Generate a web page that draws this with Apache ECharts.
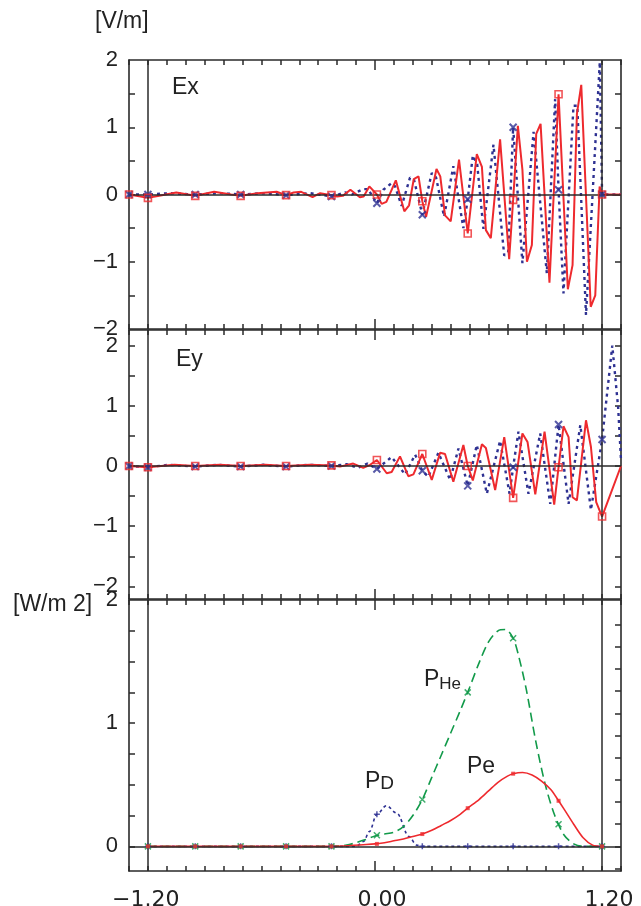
<!DOCTYPE html>
<html><head><meta charset="utf-8">
<script src="https://cdn.jsdelivr.net/npm/echarts@6/dist/echarts.min.js"></script>
<style>html,body{margin:0;padding:0;background:#fff}#c{width:641px;height:906px}</style>
</head><body><div id="c"></div>
<script>
// ---------- Ex panel (V/m) ----------
const exRedX = [-1.30,-1.20,-1.14,-1.05,-0.95,-0.85,-0.76,-0.71,-0.62,-0.52,-0.47,-0.43,-0.39,-0.33,-0.29,-0.23,-0.20,-0.17,-0.13,-0.08,-0.06,-0.03,0.01,0.035,0.06,0.11,0.155,0.18,0.205,0.23,0.25,0.27,0.325,0.345,0.37,0.40,0.444,0.49,0.538,0.565,0.586,0.612,0.661,0.709,0.73,0.755,0.779,0.803,0.829,0.852,0.875,0.922,0.97,1.019,1.044,1.067,1.09,1.14,1.164,1.187,1.20,1.30];
const exRedY = [0,-0.05,-0.02,0.03,-0.02,0.04,0.0,-0.02,0.02,0.04,-0.01,0.03,0.04,-0.04,0.02,-0.01,-0.03,-0.02,0.07,-0.04,-0.03,0.12,0.0,-0.14,-0.11,0.21,-0.25,-0.16,0.23,0.27,-0.10,-0.33,0.38,0.27,-0.31,-0.40,0.52,-0.58,0.60,0.41,-0.53,-0.65,0.82,-0.96,-0.08,1.02,0.37,-1.00,-0.75,0.90,1.05,-1.31,1.49,-1.41,-1.05,1.20,1.63,-1.67,-1.50,0.12,0,0];
const exBlueX = [-1.30,-1.20,-1.085,-0.95,-0.82,-0.71,-0.58,-0.47,-0.344,-0.23,-0.159,-0.122,-0.063,-0.037,0.01,0.044,0.088,0.106,0.141,0.185,0.206,0.25,0.30,0.323,0.365,0.414,0.467,0.49,0.517,0.54,0.573,0.626,0.683,0.704,0.73,0.779,0.838,0.908,0.952,0.97,0.996,1.049,1.069,1.115,1.188,1.20,1.30];
const exBlueY = [0,0,0.02,0,0.02,0,0.02,-0.01,0.02,-0.03,0.03,0.0,0.08,0.08,-0.13,0.07,0.17,0.12,-0.17,0.25,0.22,-0.30,0.32,0.25,-0.33,0.42,-0.50,-0.07,0.58,0.45,-0.51,0.74,-0.91,-0.85,1.00,-1.02,0.93,-1.17,1.42,0.07,-1.47,1.32,1.32,-1.79,1.97,0,0];
const markX = [-1.30,-1.20,-0.95,-0.71,-0.47,-0.23,0.01,0.25,0.49,0.73,0.97,1.20];
const exRedMarkY  = [0,-0.05,-0.02,-0.02,-0.01,-0.01,0.0,-0.10,-0.58,-0.08,1.49,0];
const exBlueMarkY = [0,0,0,0,-0.01,-0.03,-0.13,-0.30,-0.07,1.00,0.07,0];

// ---------- Ey panel (V/m) ----------
const eyRedX = [-1.30,-1.20,-1.06,-0.95,-0.82,-0.71,-0.58,-0.47,-0.344,-0.23,-0.185,-0.115,-0.062,-0.026,0.01,0.062,0.088,0.132,0.176,0.203,0.25,0.30,0.344,0.37,0.414,0.467,0.49,0.517,0.565,0.586,0.635,0.683,0.73,0.779,0.806,0.847,0.896,0.947,0.97,0.996,1.023,1.044,1.067,1.115,1.141,1.169,1.20,1.30];
const eyRedY = [0,-0.02,0.02,0.0,0.02,0.0,0.02,0.0,0.02,0.01,-0.01,0.04,-0.03,0.02,0.10,-0.12,-0.10,0.16,-0.17,-0.14,0.20,-0.23,0.22,0.20,-0.26,0.35,0.0,-0.24,0.36,0.30,-0.40,0.48,-0.53,0.54,0.40,-0.47,0.57,-0.64,-0.02,0.66,0.48,-0.52,-0.57,0.76,0.32,-0.60,-0.84,0];
const eyBlueX = [-1.30,-1.20,-1.09,-0.95,-0.83,-0.71,-0.59,-0.47,-0.35,-0.23,-0.15,-0.09,-0.04,0.01,0.088,0.159,0.212,0.25,0.282,0.335,0.397,0.441,0.49,0.538,0.591,0.661,0.711,0.73,0.758,0.811,0.873,0.926,0.97,1.023,1.085,1.141,1.20,1.254,1.285,1.30];
const eyBlueY = [0,-0.02,0.02,-0.01,0.02,-0.01,0.02,-0.01,0.02,0.0,0.03,-0.03,0.04,-0.05,0.15,-0.14,0.19,-0.08,-0.18,0.22,-0.23,0.29,-0.33,0.35,-0.46,0.42,-0.46,-0.02,0.57,-0.46,0.54,-0.63,0.69,-0.63,0.68,-0.73,0.44,2.0,0.97,0.1];
const eyRedMarkY  = [0,-0.02,0,0,0,0.01,0.10,0.20,0.0,-0.53,-0.02,-0.84];
const eyBlueMarkY = [0,-0.02,-0.01,-0.01,-0.01,0,-0.05,-0.08,-0.33,-0.02,0.69,0.44];

// ---------- Power panel (W/m2) ----------
const pheX = [-1.20,-0.25,-0.20,-0.15,-0.10,-0.05,0.00,0.05,0.10,0.15,0.20,0.25,0.30,0.35,0.40,0.45,0.50,0.55,0.60,0.65,0.69,0.73,0.76,0.80,0.85,0.90,0.95,1.00,1.05,1.10,1.20];
const pheY = [0,0,0.003,0.01,0.03,0.055,0.085,0.10,0.115,0.16,0.25,0.38,0.56,0.74,0.92,1.10,1.29,1.49,1.66,1.75,1.76,1.69,1.54,1.27,0.85,0.50,0.25,0.09,0.02,0,0];
const peX = [-1.20,-0.25,0.00,0.05,0.10,0.15,0.20,0.25,0.30,0.35,0.40,0.45,0.49,0.55,0.60,0.65,0.70,0.73,0.78,0.83,0.88,0.93,0.97,1.00,1.05,1.10,1.15,1.20];
const peY = [0,0,0.02,0.03,0.045,0.06,0.08,0.10,0.13,0.17,0.21,0.26,0.31,0.38,0.45,0.52,0.57,0.59,0.60,0.58,0.53,0.46,0.37,0.30,0.18,0.07,0.01,0];
const pdX = [-1.20,-0.23,-0.10,-0.06,-0.03,0.01,0.06,0.115,0.18,0.22,0.25,1.20];
const pdY = [0,0,0,0.04,0.12,0.26,0.33,0.27,0.08,0.01,0,0];
const markX3 = [-1.20,-0.95,-0.71,-0.47,-0.23,0.01,0.25,0.49,0.73,0.97,1.20];
const pheMarkY = [0,0,0,0,0,0.09,0.38,1.25,1.69,0.18,0];
const peMarkY  = [0,0,0,0,0,0.02,0.10,0.31,0.59,0.37,0];
const pdMarkY  = [0,0,0,0,0,0.26,0,0,0,0,0];

// ---------- axes / ticks ----------
const xRange = [-1.3, 1.3];
const xLabelValues = [-1.2, 0, 1.2];
const xLabelTexts = ['\u22121.20', '0.00', '1.20'];
const refLinesX = [-1.2, 1.2];
const p1Range = [-2, 2],      p1Ticks = [-1.5,-1,-0.5,0,0.5,1,1.5], p1Labels = [-2,-1,0,1,2];
const p2Range = [-2.21, 2.26], p2Ticks = [-2,-1.5,-1,-0.5,0,0.5,1,1.5,2], p2Labels = [-2,-1,0,1,2];
const p3Range = [-0.2, 2],    p3Ticks = [0,0.25,0.5,0.75,1,1.25,1.5,1.75], p3Labels = [0,1,2];
const p3RightTicks = [-0.18,0,0.18,0.36,0.54,0.72,0.9,1.08,1.26,1.44,1.62,1.8];

const RED = '#ee2a2e', BLUE = '#2e3192', GREEN = '#129a4a', AX = '#2a2a2a';
const zip = (xs, ys) => xs.slice(0, Math.min(xs.length, ys.length)).map((x, i) => [x, ys[i]]);
const minus = v => (v < 0 ? '\u2212' + Math.abs(v) : String(v));

const grids = [
  {left: 129, right: 20, top: 60, height: 269},
  {left: 129, right: 20, top: 330, height: 269},
  {left: 129, right: 20, top: 600, height: 271}
];
const xAxes = [], yAxes = [];
const XLF = {fontSize: 22, fontFamily: 'DejaVu Sans', color: '#222'};
grids.forEach((g, i) => {
  ['bottom', 'top'].forEach(pos => {
    const main = {
      type: 'value', gridIndex: i, position: pos, min: xRange[0], max: xRange[1], interval: 0.1,
      axisLine: {show: true, onZero: false, lineStyle: {color: AX, width: 1.6}},
      axisTick: {show: true, inside: true, length: 5, lineStyle: {color: AX, width: 1.5}},
      axisLabel: {show: false}, splitLine: {show: false}
    };
    if (i === 2 && pos === 'bottom') {
      main.axisLabel = {
        show: true, customValues: xLabelValues, margin: 18,
        formatter: v => {
          let k = 0, d = 1e9;
          xLabelValues.forEach((t, j) => { if (Math.abs(t - v) < d) { d = Math.abs(t - v); k = j; } });
          const s = xLabelTexts[k]; const p = s.indexOf('.');
          const L = s.slice(0, p), R = s.slice(p + 1);
          // ghost copies on both sides keep the decimal point centred on the tick
          return '{g|' + R + '}{v|' + s + '}{g|' + L + '}';
        },
        rich: {
          v: XLF,
          g: Object.assign({}, XLF, {color: 'rgba(0,0,0,0)'})
        }
      };
    }
    xAxes.push(main);
    xAxes.push({
      type: 'value', gridIndex: i, position: pos, min: xRange[0], max: xRange[1],
      axisLine: {show: false, onZero: false},
      axisTick: {show: true, inside: true, length: 10, customValues: [0], lineStyle: {color: AX, width: 1.5}},
      axisLabel: {show: false}, splitLine: {show: false}
    });
  });
});
const pcfg = [
  {r: p1Range, t: p1Ticks, l: p1Labels, rt: p1Ticks},
  {r: p2Range, t: p2Ticks, l: p2Labels, rt: p2Ticks},
  {r: p3Range, t: p3Ticks, l: p3Labels, rt: p3RightTicks}
];
pcfg.forEach((c, i) => {
  yAxes.push({
    type: 'value', gridIndex: i, position: 'left', min: c.r[0], max: c.r[1],
    axisLine: {show: true, onZero: false, lineStyle: {color: AX, width: 1.6}},
    axisTick: {show: true, inside: true, length: 6, customValues: c.t, lineStyle: {color: AX, width: 1.5}},
    axisLabel: {show: true, customValues: c.l, margin: 11, formatter: minus,
      fontSize: 22, fontFamily: 'Liberation Sans', color: '#222'},
    splitLine: {show: false}
  });
  yAxes.push({
    type: 'value', gridIndex: i, position: 'right', min: c.r[0], max: c.r[1],
    axisLine: {show: true, onZero: false, lineStyle: {color: AX, width: 1.6}},
    axisTick: {show: true, inside: true, length: 6, customValues: c.rt, lineStyle: {color: AX, width: 1.5}},
    axisLabel: {show: false}, splitLine: {show: false}
  });
});

const refLine = {
  silent: true, symbol: 'none', animation: false, label: {show: false},
  lineStyle: {color: AX, width: 1.5, type: 'solid'}, emphasis: {disabled: true},
  data: [{yAxis: 0}].concat(refLinesX.map(v => ({xAxis: v})))
};
const XSYM = 'path://M0,0L10,10M10,0L0,10';
const PSYM = 'path://M5,0L5,10M0,5L10,5';
function line(gi, xs, ys, color, width, type, extra) {
  return Object.assign({
    type: 'line', xAxisIndex: gi * 4, yAxisIndex: gi * 2, data: zip(xs, ys), showSymbol: false,
    lineStyle: {color: color, width: width, type: type}, itemStyle: {color: color}, z: 3,
    emphasis: {disabled: true}
  }, extra || {});
}
function marks(gi, xs, ys, sym, size, style) {
  return {type: 'scatter', xAxisIndex: gi * 4, yAxisIndex: gi * 2, data: zip(xs, ys),
    symbol: sym, symbolSize: size, itemStyle: style, z: 5, emphasis: {disabled: true}};
}
const series = [
  line(0, exBlueX, exBlueY, BLUE, 2.4, [3, 4], {markLine: refLine}),
  line(0, exRedX, exRedY, RED, 2),
  marks(0, markX, exBlueMarkY, XSYM, 7, {color: 'none', borderColor: BLUE, borderWidth: 2}),
  marks(0, markX, exRedMarkY, 'rect', 7, {color: 'rgba(255,255,255,0)', borderColor: RED, borderWidth: 1.6}),
  line(1, eyBlueX, eyBlueY, BLUE, 2.4, [3, 4], {markLine: refLine}),
  line(1, eyRedX, eyRedY, RED, 2),
  marks(1, markX, eyBlueMarkY, XSYM, 7, {color: 'none', borderColor: BLUE, borderWidth: 2}),
  marks(1, markX, eyRedMarkY, 'rect', 7, {color: 'rgba(255,255,255,0)', borderColor: RED, borderWidth: 1.6}),
  line(2, pdX, pdY, BLUE, 1.6, [3, 3], {markLine: refLine, smooth: 0.35, smoothMonotone: 'x'}),
  line(2, pheX, pheY, GREEN, 1.6, [9, 5], {smooth: 0.3}),
  line(2, peX, peY, RED, 1.6, 'solid', {smooth: 0.3}),
  marks(2, markX3, pdMarkY, PSYM, 6, {color: 'none', borderColor: BLUE, borderWidth: 1.5}),
  marks(2, markX3, pheMarkY, XSYM, 6, {color: 'none', borderColor: GREEN, borderWidth: 1.5}),
  marks(2, markX3, peMarkY, 'rect', 4, {color: RED})
];

const TF = 'Liberation Sans';
const txt = (x, y, text, size, rich) => ({
  type: 'text', left: x, top: y, silent: true,
  style: Object.assign({text: text, font: size + 'px "' + TF + '"', fill: '#222'}, rich ? {rich: rich} : {})
});
const graphic = [
  txt(95, 10, '[V/m]', 23),
  txt(172, 76, 'Ex', 23),
  txt(176, 348, 'Ey', 23),
  txt(13, 593, '[W/m 2]', 23),
  txt(424, 668, '{p|P}{s|He}', 23, {p: {fontSize: 23, fontFamily: TF, fill: '#222'}, s: {fontSize: 17, fontFamily: TF, fill: '#222', padding: [9, 0, 0, 0]}}),
  txt(365, 770, '{p|P}{s|D}', 23, {p: {fontSize: 23, fontFamily: TF, fill: '#222'}, s: {fontSize: 19, fontFamily: TF, fill: '#222', padding: [4, 0, 0, 0]}}),
  txt(467, 755, 'Pe', 23)
];

const chart = echarts.init(document.getElementById('c'), null, {renderer: 'canvas', width: 641, height: 906});
chart.setOption({
  animation: false,
  backgroundColor: '#fff',
  grid: grids.map(g => Object.assign({containLabel: false, outerBoundsMode: 'none'}, g)),
  xAxis: xAxes,
  yAxis: yAxes,
  series: series,
  graphic: graphic
});
</script>
</body></html>
